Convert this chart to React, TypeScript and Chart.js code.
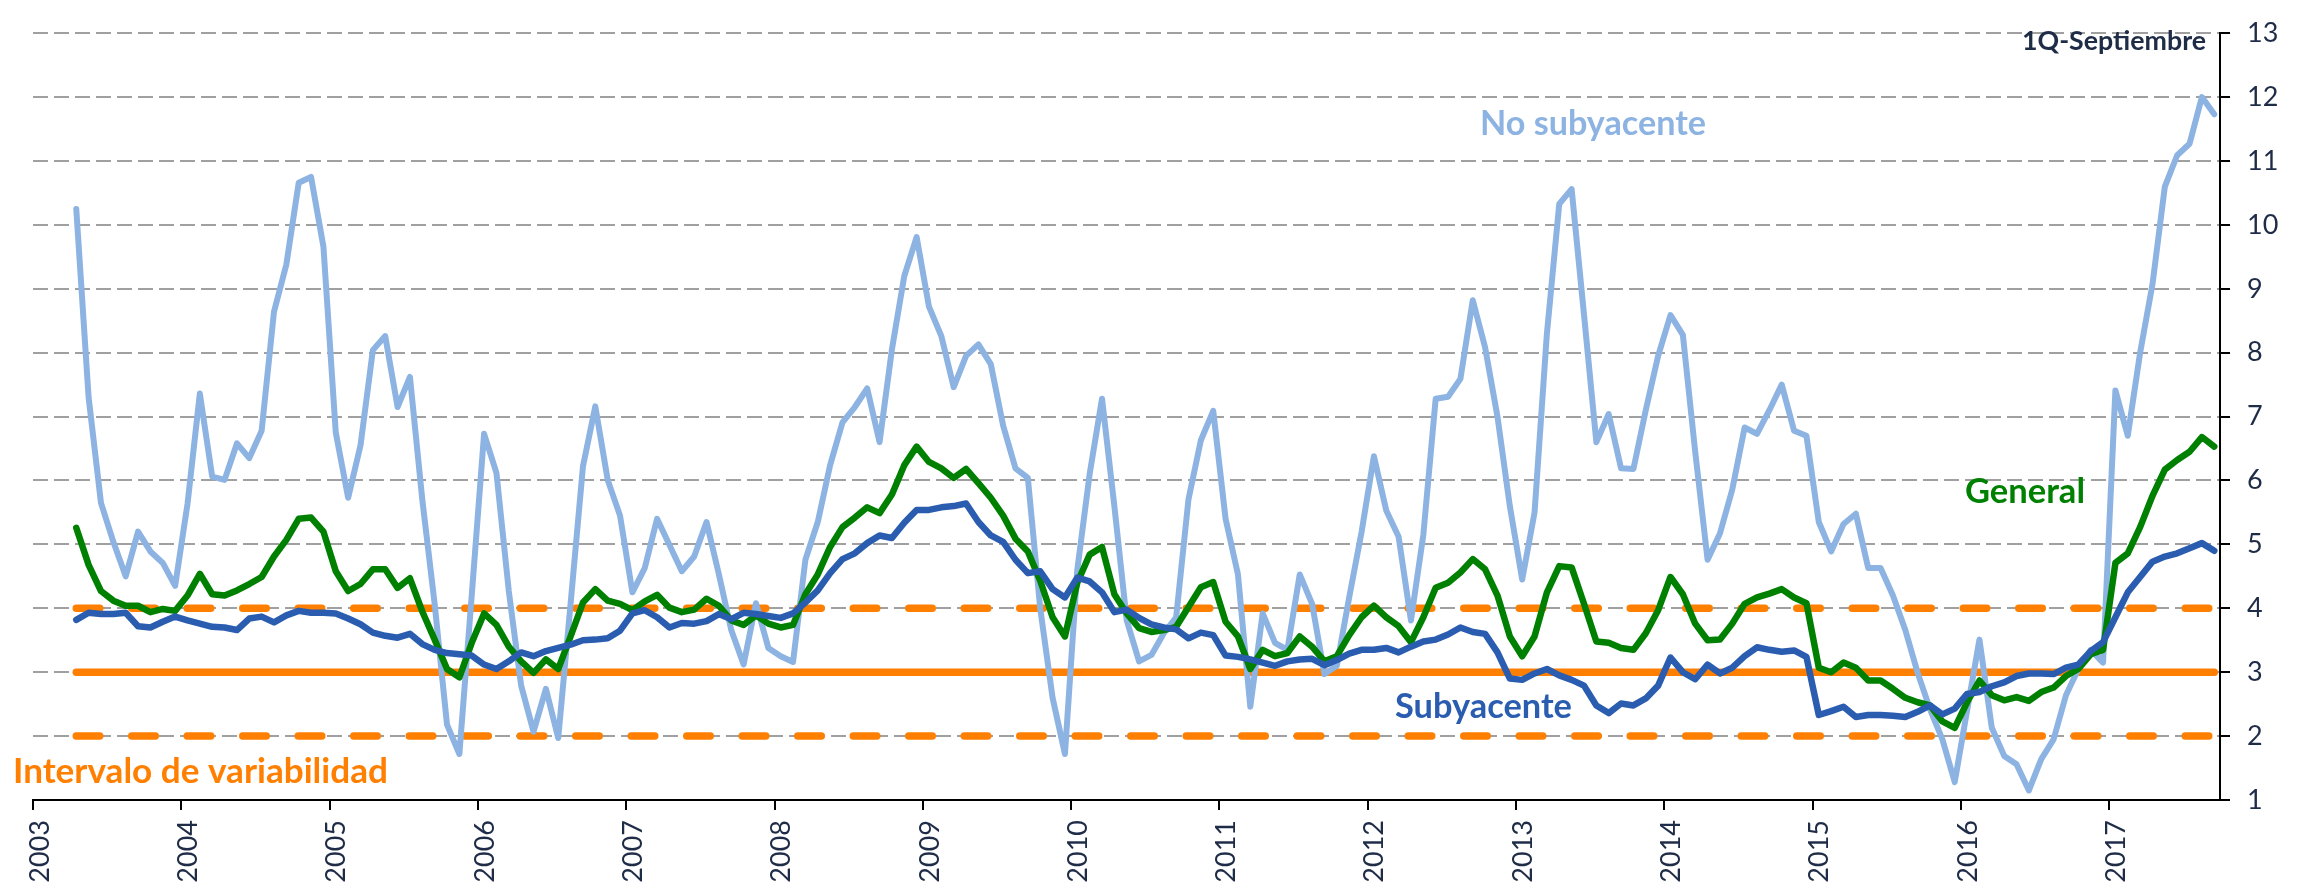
import React, { useEffect, useRef } from 'react';
import { Chart, registerables } from 'chart.js';

Chart.register(...registerables);

// ---------------- data ----------------
const START_YEAR = 2003;
const START_MONTH = 4; // first observation: April 2003, monthly through September 2017
const YEAR_TICKS = [2003, 2004, 2005, 2006, 2007, 2008, 2009, 2010, 2011, 2012, 2013, 2014, 2015, 2016, 2017];
const X_MIN = 2003;
const X_MAX = 2017.747;
const Y_MIN = 1;
const Y_MAX = 13;

const NO_SUBYACENTE = [
  10.25, 7.3, 5.65, 5.04, 4.5, 5.2, 4.89, 4.71, 4.35,
  5.63, 7.36, 6.06, 6.01, 6.58, 6.35, 6.78, 8.64, 9.38, 10.66, 10.75, 9.66,
  6.75, 5.73, 6.55, 8.04, 8.26, 7.15, 7.62, 5.7, 4.07, 2.18, 1.72, 4.2,
  6.73, 6.12, 4.27, 2.79, 2.07, 2.74, 1.97, 4.07, 6.22, 7.16, 6.01, 5.45,
  4.25, 4.63, 5.4, 4.99, 4.58, 4.81, 5.35, 4.53, 3.66, 3.12, 4.08, 3.38,
  3.25, 3.16, 4.76, 5.35, 6.24, 6.91, 7.15, 7.44, 6.6, 8.05, 9.2, 9.81,
  8.72, 8.26, 7.46, 7.95, 8.13, 7.82, 6.86, 6.19, 6.04, 4.0, 2.6, 1.72,
  4.6, 6.1, 7.28, 5.6, 3.81, 3.17, 3.27, 3.61, 3.86, 5.71, 6.63, 7.09,
  5.4, 4.53, 2.46, 3.92, 3.46, 3.35, 4.53, 4.07, 2.97, 3.1, 4.17, 5.19,
  6.38, 5.53, 5.12, 3.81, 5.15, 7.28, 7.31, 7.59, 8.82, 8.08, 7.0, 5.6,
  4.45, 5.5, 8.3, 10.33, 10.56, 8.6, 6.6, 7.04, 6.19, 6.18, 7.1, 7.95,
  8.59, 8.28, 6.45, 4.76, 5.17, 5.86, 6.83, 6.73, 7.1, 7.5, 6.78, 6.7,
  5.35, 4.89, 5.32, 5.48, 4.63, 4.63, 4.2, 3.66, 2.99, 2.42, 1.95, 1.28,
  2.4, 3.51, 2.13, 1.69, 1.56, 1.15, 1.64, 1.95, 2.64, 3.05, 3.35, 3.15,
  7.41, 6.7, 8.0, 9.07, 10.6, 11.09, 11.27, 12.0, 11.73,
];

const GENERAL = [
  5.26, 4.68, 4.27, 4.12, 4.04, 4.04, 3.94, 3.99, 3.96,
  4.2, 4.54, 4.22, 4.2, 4.28, 4.38, 4.49, 4.81, 5.07, 5.4, 5.42, 5.2,
  4.58, 4.27, 4.38, 4.61, 4.61, 4.32, 4.47, 3.95, 3.51, 3.05, 2.92, 3.46,
  3.92, 3.74, 3.4, 3.17, 2.99, 3.2, 3.05, 3.56, 4.09, 4.3, 4.12, 4.07,
  3.97, 4.11, 4.21, 4.01, 3.94, 3.98, 4.15, 4.04, 3.81, 3.74, 3.89, 3.76,
  3.7, 3.74, 4.22, 4.53, 4.96, 5.27, 5.42, 5.58, 5.49, 5.78, 6.24, 6.53,
  6.29, 6.19, 6.04, 6.18, 5.96, 5.73, 5.45, 5.09, 4.89, 4.43, 3.86, 3.56,
  4.4, 4.84, 4.96, 4.22, 3.92, 3.69, 3.63, 3.66, 3.71, 4.02, 4.33, 4.41,
  3.79, 3.56, 3.05, 3.35, 3.25, 3.3, 3.56, 3.4, 3.17, 3.25, 3.58, 3.86,
  4.04, 3.86, 3.72, 3.47, 3.86, 4.32, 4.4, 4.56, 4.77, 4.61, 4.2, 3.56,
  3.25, 3.56, 4.25, 4.66, 4.64, 4.07, 3.48, 3.46, 3.38, 3.35, 3.61, 3.97,
  4.49, 4.22, 3.76, 3.5, 3.51, 3.76, 4.07, 4.17, 4.23, 4.3, 4.17, 4.08,
  3.07, 3.0, 3.15, 3.07, 2.87, 2.87, 2.74, 2.6, 2.53, 2.48, 2.23, 2.13,
  2.53, 2.87, 2.64, 2.56, 2.61, 2.55, 2.69, 2.76, 2.94, 3.05, 3.28, 3.35,
  4.71, 4.86, 5.27, 5.76, 6.17, 6.32, 6.45, 6.68, 6.53,
];

const SUBYACENTE = [
  3.82, 3.93, 3.91, 3.91, 3.93, 3.72, 3.7, 3.79, 3.87,
  3.81, 3.76, 3.71, 3.7, 3.66, 3.84, 3.87, 3.78, 3.89, 3.96, 3.93, 3.93,
  3.92, 3.84, 3.75, 3.62, 3.57, 3.54, 3.6, 3.44, 3.35, 3.3, 3.28, 3.26,
  3.12, 3.05, 3.17, 3.31, 3.25, 3.33, 3.38, 3.43, 3.5, 3.51, 3.53, 3.65,
  3.92, 3.97, 3.86, 3.7, 3.77, 3.76, 3.8, 3.91, 3.83, 3.93, 3.91, 3.88,
  3.85, 3.92, 4.09, 4.28, 4.55, 4.77, 4.86, 5.02, 5.14, 5.1, 5.34, 5.54,
  5.54, 5.58, 5.6, 5.64, 5.35, 5.14, 5.04, 4.76, 4.55, 4.58, 4.3, 4.17,
  4.48, 4.42, 4.25, 3.94, 3.98, 3.85, 3.75, 3.7, 3.67, 3.53, 3.62, 3.58,
  3.26, 3.24, 3.2, 3.15, 3.1, 3.17, 3.2, 3.21, 3.11, 3.19, 3.29, 3.35,
  3.35, 3.38, 3.31, 3.4, 3.48, 3.51, 3.59, 3.7, 3.63, 3.6, 3.31, 2.9,
  2.88, 2.98, 3.05, 2.95, 2.88, 2.79, 2.48, 2.36, 2.51, 2.48, 2.59, 2.79,
  3.23, 3.0, 2.89, 3.12, 2.98, 3.07, 3.25, 3.39, 3.35, 3.32, 3.34, 3.24,
  2.33, 2.39, 2.46, 2.3, 2.33, 2.33, 2.32, 2.3, 2.38, 2.48, 2.34, 2.43,
  2.66, 2.69, 2.78, 2.84, 2.94, 2.98, 2.98, 2.97, 3.07, 3.12, 3.33, 3.47,
  3.86, 4.25, 4.49, 4.73, 4.81, 4.86, 4.94, 5.02, 4.9,
];

const META = 3;
const BAND_LOW = 2;
const BAND_HIGH = 4;

// ---------------- styles ----------------
const C_LIGHT = '#8DB3E2';
const C_GREEN = '#008000';
const C_DARK = '#2A5DB0';
const C_ORANGE = '#FF7F00';
const C_TEXT = '#1F2C47';
const C_GRID = '#A0A0A0';
const FONT = 'Lato, "Open Sans", sans-serif';

const monthX = (i: number) => START_YEAR + (START_MONTH - 1 + i + 0.5) / 12;
const toPoints = (arr: number[]) => arr.map((y, i) => ({ x: monthX(i), y }));

type Note = { text: string; color: string; x: number; y: number; width: number; align: CanvasTextAlign };
const NOTES: Note[] = [
  { text: 'No subyacente', color: C_LIGHT, x: 1480, y: 135, width: 226, align: 'left' },
  { text: 'General', color: C_GREEN, x: 1965, y: 503, width: 120, align: 'left' },
  { text: 'Subyacente', color: C_DARK, x: 1395, y: 718, width: 177, align: 'left' },
  { text: 'Intervalo de variabilidad', color: C_ORANGE, x: 13, y: 783, width: 375, align: 'left' },
  { text: '1Q-Septiembre', color: C_TEXT, x: 2206, y: 50, width: 184, align: 'right' },
];

const notesPlugin = {
  id: 'notes',
  afterDatasetsDraw(chart: any) {
    const ctx = chart.ctx as CanvasRenderingContext2D;
    ctx.save();
    for (const n of NOTES) {
      ctx.font = `bold 30px ${FONT}`;
      const w = ctx.measureText(n.text).width;
      const size = (30 * n.width) / w;
      ctx.font = `bold ${size.toFixed(2)}px ${FONT}`;
      ctx.fillStyle = n.color;
      ctx.textAlign = n.align;
      ctx.textBaseline = 'alphabetic';
      ctx.fillText(n.text, n.x, n.y);
    }
    ctx.restore();
  },
};

export default function App() {
  const ref = useRef<HTMLCanvasElement | null>(null);

  useEffect(() => {
    if (!ref.current) return;
    const first = monthX(0);
    const last = monthX(NO_SUBYACENTE.length - 1);
    const flat = (v: number) => [{ x: first, y: v }, { x: last, y: v }];
    const lineBase = {
      pointRadius: 0,
      tension: 0,
      fill: false,
      borderJoinStyle: 'round' as const,
      borderCapStyle: 'round' as const,
    };

    const chart = new Chart(ref.current, {
      type: 'line',
      data: {
        datasets: [
          { ...lineBase, label: 'Subyacente', data: toPoints(SUBYACENTE), borderColor: C_DARK, borderWidth: 6.5, order: 1 },
          { ...lineBase, label: 'General', data: toPoints(GENERAL), borderColor: C_GREEN, borderWidth: 6.5, order: 2 },
          { ...lineBase, label: 'No subyacente', data: toPoints(NO_SUBYACENTE), borderColor: C_LIGHT, borderWidth: 6, order: 3 },
          { ...lineBase, label: 'Meta', data: flat(META), borderColor: C_ORANGE, borderWidth: 7.5, order: 4 },
          { ...lineBase, label: 'Límite superior', data: flat(BAND_HIGH), borderColor: C_ORANGE, borderWidth: 7.5, borderDash: [23.5, 32], order: 5 },
          { ...lineBase, label: 'Límite inferior', data: flat(BAND_LOW), borderColor: C_ORANGE, borderWidth: 7.5, borderDash: [23.5, 32], order: 6 },
        ],
      },
      options: {
        animation: false,
        responsive: true,
        maintainAspectRatio: false,
        devicePixelRatio: 1,
        layout: { padding: { left: 33, top: 17.5, right: 0, bottom: 0 } },
        plugins: { legend: { display: false }, tooltip: { enabled: false } },
        scales: {
          x: {
            type: 'linear',
            position: 'bottom',
            min: X_MIN,
            max: X_MAX,
            afterBuildTicks: (s: any) => {
              s.ticks = YEAR_TICKS.map((v) => ({ value: v }));
            },
            afterFit: (s: any) => {
              s.height = 89;
            },
            ticks: {
              autoSkip: false,
              minRotation: 90,
              maxRotation: 90,
              padding: 10,
              labelOffset: 7,
              color: C_TEXT,
              font: { family: FONT, size: 27 },
              callback: (v: any) => String(v),
            },
            grid: {
              drawOnChartArea: false,
              drawTicks: true,
              tickLength: 10,
              color: '#000',
              tickColor: '#000',
              tickWidth: 2,
              lineWidth: 2,
            },
            border: { display: true, color: '#000', width: 2 },
          },
          y: {
            type: 'linear',
            position: 'right',
            min: Y_MIN,
            max: Y_MAX,
            afterFit: (s: any) => {
              s.width = 90;
            },
            ticks: {
              stepSize: 1,
              padding: 17,
              color: C_TEXT,
              font: { family: FONT, size: 27 },
              callback: (v: any) => String(v),
            },
            grid: {
              color: C_GRID,
              lineWidth: 2,
              tickLength: 10,
              tickColor: '#000',
              tickWidth: 2,
              tickBorderDash: [],
            },
            border: { display: true, color: '#000', width: 2, dash: [15, 6] },
          },
        },
      },
      plugins: [notesPlugin],
    } as any);

    return () => chart.destroy();
  }, []);

  return (
    <div style={{ position: 'fixed', left: 0, top: 0, width: 2310, height: 889, background: '#fff' }}>
      <canvas ref={ref} />
    </div>
  );
}
